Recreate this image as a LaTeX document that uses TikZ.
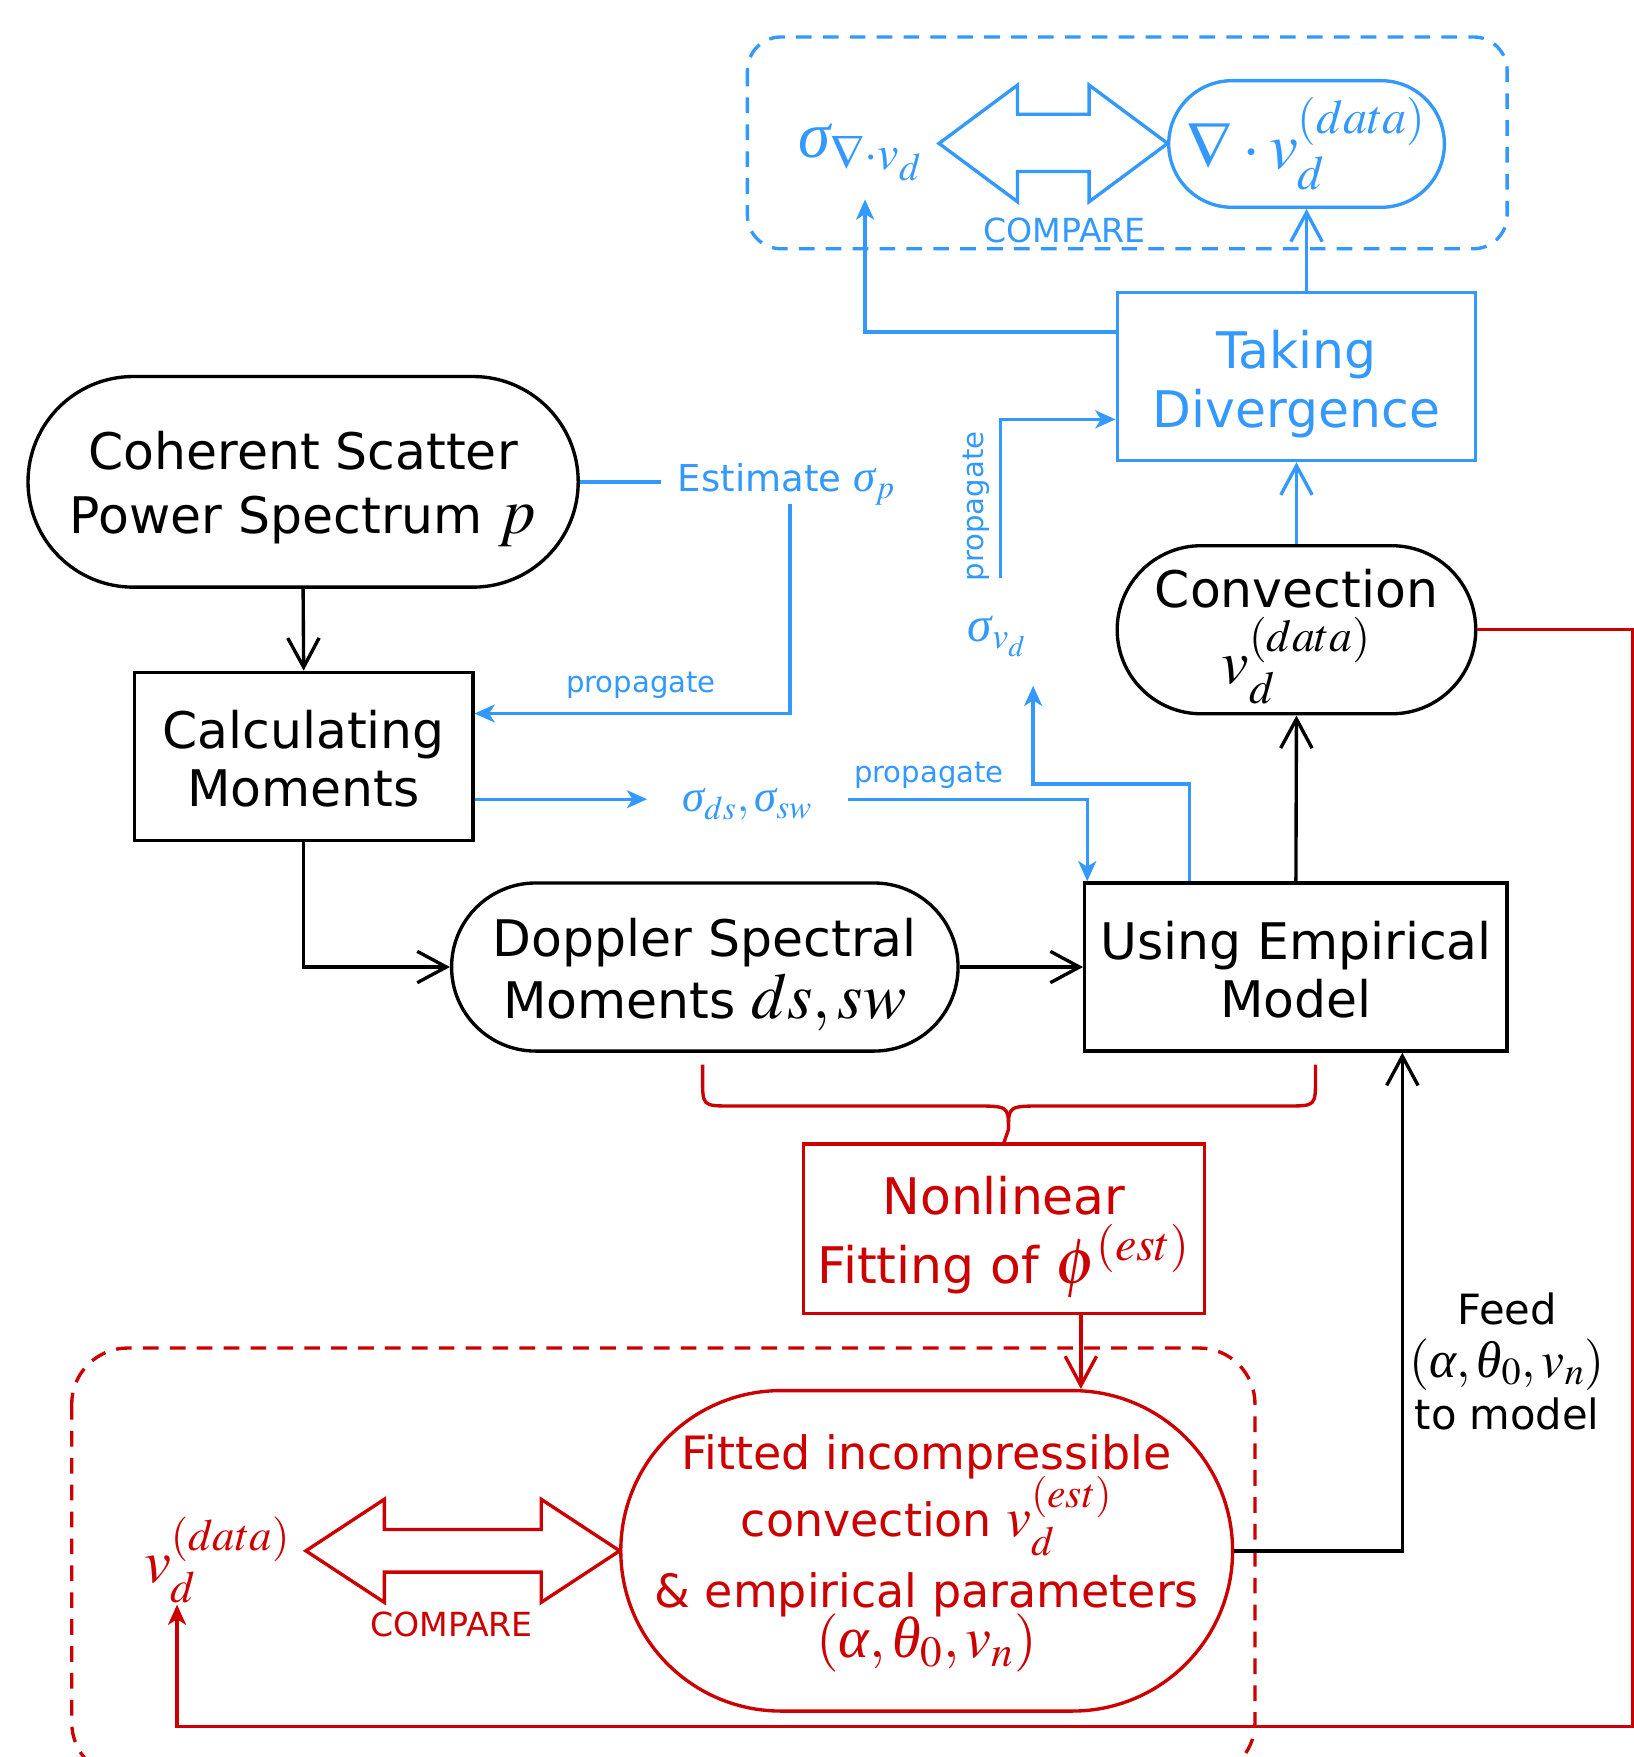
\documentclass[tikz,border=0pt]{standalone}
\usepackage{mathptmx}
\usepackage{fontspec}
\setmainfont{DejaVu Sans}
\newfontfamily\grkfont{Liberation Serif}
\usetikzlibrary{shapes.misc,arrows.meta,calc}
\definecolor{cblue}{HTML}{3399FF}
\definecolor{cred}{HTML}{CC0000}
\newcommand\mth[2]{{\fontsize{#1}{#1}\selectfont$#2$}}
\newcommand\fs[2]{\fontsize{#1}{#2}\selectfont}
\newcommand\gsig{\mbox{\grkfont\itshape σ}}
\newcommand\galp{\mbox{\grkfont\itshape α}}
\newcommand\gthe{\mbox{\grkfont\itshape θ}}
\tikzset{
  rrect/.style={draw, rounded rectangle, inner sep=0pt},
  sbox/.style={draw, rectangle, inner sep=0pt},
  barb/.style={-{Straight Barb[length=13pt,width=14pt]}},
  stl/.style={-{Stealth[length=9pt,width=8pt,inset=2.5pt]}},
  lbl/.style={inner sep=0pt, align=center},
  dbox/.style={dashed, dash pattern=on 7pt off 5pt, rounded corners=15pt},
  cmp/.style={line join=miter, line width=1.5pt}
}
\begin{document}
\begin{tikzpicture}[x=0.5pt,y=-0.5pt,line width=1.5pt]
\clip (0,0) rectangle (1458,1568);
% dashed groups
\draw[cblue, dbox] (667,33) rectangle (1345,222);
\draw[cred, dbox, rounded corners=25pt] (64,1203) rectangle (1120,1587);

% shapes
\node[rrect, minimum width=491*0.5pt, minimum height=188*0.5pt] (coh) at (270.5,430) {};
\node[sbox, minimum width=302*0.5pt, minimum height=150*0.5pt] (calc) at (271,675) {};
\node[rrect, minimum width=452*0.5pt, minimum height=150*0.5pt] (dop) at (629,863) {};
\node[sbox, minimum width=377*0.5pt, minimum height=150*0.5pt] (emp) at (1156.5,863) {};
\node[rrect, minimum width=320*0.5pt, minimum height=150*0.5pt] (conv) at (1157,562) {};
\node[sbox, cblue, minimum width=320*0.5pt, minimum height=150*0.5pt] (div) at (1157,336) {};
\node[rrect, cblue, minimum width=246*0.5pt, minimum height=113*0.5pt] (nab) at (1166,128.5) {};
\node[sbox, cred, minimum width=358*0.5pt, minimum height=151*0.5pt] (nonl) at (896,1096.5) {};
\node[rrect, cred, minimum width=546*0.5pt, minimum height=286*0.5pt] (fit) at (827,1384) {};

% texts of shapes
\node[lbl, font=\fs{22.5}{28.5}] (coht) at (270.5,436) {Coherent Scatter\\Power Spectrum \mth{29}{p}};
\node[lbl, font=\fs{22.5}{26}] (calct) at (271,677) {Calculating\\Moments};
\node[lbl, font=\fs{22.5}{27.5}] (dopt) at (629,870) {Doppler Spectral\\Moments \mth{29}{ds,sw}};
\node[lbl, font=\fs{22.5}{26}] (empt) at (1156.5,865.5) {Using Empirical\\Model};
\node[lbl, font=\fs{22.5}{34}] (convt) at (1157,559) {Convection\\\smash{\mth{27.5}{v_d^{(data)}}}};
\node[lbl, text=cblue, font=\fs{22.5}{26.5}] (divt) at (1157,343) {Taking\\Divergence};
\node[lbl, text=cblue] (nabt) at (1166,128.5) {\mth{29}{\nabla\cdot v_d^{(data)}}};
\node[lbl, text=cred, font=\fs{22.5}{31}] (nonlt) at (896,1104) {Nonlinear\\Fitting of \mth{29}{\phi^{(est)}}};
\node[lbl, text=cred, font=\fs{20.5}{30}] (fitt) at (827,1380) {Fitted incompressible\\convection \smash{\mth{25}{v_d^{(est)}}}\\[1.5pt]\& empirical parameters\\[-7.5pt]\smash{\mth{26}{(\galp,\gthe_0,v_n)}}};

% free texts
\node[lbl, text=cblue] (sig) at (768,136) {\mth{29}{\gsig_{\nabla\cdot v_d}}};
\node[lbl, text=cred] (vdr) at (194,1392) {\mth{27}{v_d^{(data)}}};
\node[lbl, text=cblue, inner sep=7pt, font=\fs{16.5}{20}] (est) at (702,432) {Estimate \mth{20}{\gsig_p}};
\node[lbl, text=cblue, inner xsep=15pt] (sds) at (667,718) {\mth{20}{\gsig_{ds},\gsig_{sw}}};
\node[lbl, text=cblue] (svd) at (890,568) {\mth{22}{\gsig_{v_d}}};
\node[lbl, font=\fs{18.6}{23.5}] (feed) at (1345,1215) {Feed\\\smash{\mth{23}{(\galp,\gthe_0,v_n)}}\\to model};
\node[lbl, text=cblue, font=\fs{14.8}{18}] (cmpb) at (950,206) {COMPARE};
\node[lbl, text=cred, font=\fs{14.8}{18}] (cmpr) at (403,1450) {COMPARE};
\node[lbl, text=cblue, font=\fs{13}{16}] (pr1) at (572,612) {propagate};
\node[lbl, text=cblue, font=\fs{13}{16}] (pr2) at (829,692) {propagate};
\node[lbl, text=cblue, font=\fs{13}{16}, rotate=90] (pr3) at (871,452) {propagate};

% free-end coordinates
\coordinate (sigin) at (772,178);
\coordinate (estdown) at (705,450);
\coordinate (svdin) at (922,612);
\coordinate (p3) at (893,516);
\coordinate (rcorner) at (1457,1541);
\coordinate (vdrin) at (158,1432);

% compare arrows
\draw[cblue, cmp] (838,128) -- (908,76) -- (908,102) -- (972,102) -- (972,76) -- (1042,128) -- (972,180) -- (972,153) -- (908,153) -- (908,180) -- cycle;
\draw[cred, cmp] (273,1384) -- (343,1338) -- (343,1365) -- (483,1365) -- (483,1338) -- (553,1384) -- (483,1430) -- (483,1403) -- (343,1403) -- (343,1430) -- cycle;

% black connectors
\draw[barb] (coh.south) -- (calc.north);
\draw[barb] (calc.south) |- (dop.west);
\draw[barb] (dop.east) -- (emp.west);
\draw[barb] (emp.north) -- (conv.south);
\draw[barb] (fit.east) -| ($(emp.south west)!0.75!(emp.south east)$);

% blue connectors
\draw[barb, cblue] (conv.north) -- (div.south);
\draw[barb, cblue] (div.north -| nab.south) -- (nab.south);
\draw[stl, cblue] ($(div.north west)!0.24!(div.south west)$) -| (sigin);
\draw[cblue] (coh.east) -- (coh.east -| est.west);
\draw[stl, cblue] (estdown) |- ($(calc.north east)!0.25!(calc.south east)$);
\draw[stl, cblue] ($(calc.north east)!0.75!(calc.south east)$) coordinate (c75) -- (c75 -| sds.west);
\draw[stl, cblue] (c75 -| sds.east) -| ($(emp.north west)!0.01!(emp.north east)$);
\draw[stl, cblue] ($(emp.north west)!0.25!(emp.north east)$) -- ++(0,-87) -| (svdin);
\draw[stl, cblue] (p3) |- ($(div.north west)!0.75!(div.south west)$);

% red connectors
\draw[stl, cred] (conv.east) -| (rcorner) -| (vdrin);
\draw[barb, cred] ($(nonl.south west)!0.69!(nonl.south east)$) coordinate (n69) -- (n69 |- fit.north);
\draw[cred] (627,950) -- (627,962) .. controls (627,987) and (627,987) .. (652,987) -- (868,987) .. controls (900,987) and (900,987) .. (900,1008) -- (nonl.north);
\draw[cred] (1174,950) -- (1174,962) .. controls (1174,987) and (1174,987) .. (1149,987) -- (932,987) .. controls (900,987) and (900,987) .. (900,1008);
\end{tikzpicture}
\end{document}
